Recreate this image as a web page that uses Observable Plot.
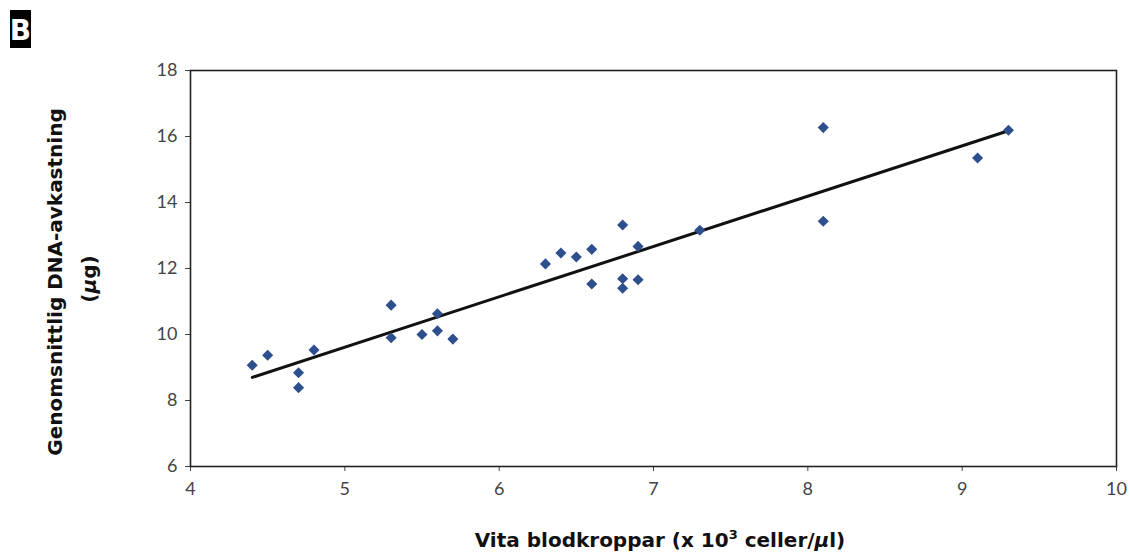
<!DOCTYPE html>
<html><head><meta charset="utf-8">
<script src="https://cdn.jsdelivr.net/npm/d3@7"></script>
<script src="https://cdn.jsdelivr.net/npm/@observablehq/plot@0.6"></script>
<style>body{margin:0;background:#fff} #chart{width:1130px;height:556px}</style>
</head><body><div id="chart"></div>
<script>
// White blood cells (x 10^3 cells/µl)
const wbc = [4.4, 4.5, 4.7, 4.7, 4.8, 5.3, 5.3, 5.5, 5.6, 5.6, 5.7,
             6.3, 6.4, 6.5, 6.6, 6.6, 6.8, 6.8, 6.8, 6.9, 6.9, 7.3,
             8.1, 8.1, 9.1, 9.3];
// Average DNA yield (µg)
const dnaYield = [9.07, 9.37, 8.84, 8.39, 9.53, 10.89, 9.90, 10.00, 10.63, 10.11, 9.86,
                  12.14, 12.47, 12.35, 12.58, 11.53, 13.32, 11.69, 11.40, 12.67, 11.66, 13.16,
                  16.27, 13.43, 15.35, 16.19];
const xTicks = [4, 5, 6, 7, 8, 9, 10];
const yTicks = [6, 8, 10, 12, 14, 16, 18];
const panelLetter = "B";

const data = wbc.map((x, i) => ({x, y: dnaYield[i]}));

const labelFont = "'DejaVu Sans', sans-serif";

const plot = Plot.plot({
  width: 1130, height: 556,
  marginLeft: 190, marginRight: 14, marginTop: 70, marginBottom: 90,
  style: {fontFamily: "Lato, 'Open Sans', sans-serif", fontSize: "18px", color: "#444", background: "#fff"},
  x: {domain: [4, 10], ticks: xTicks, tickFormat: d3.format("d"), tickSize: 5, tickPadding: 11, label: null},
  y: {domain: [6, 18], ticks: yTicks, tickFormat: d3.format("d"), tickSize: 5, tickPadding: 8, label: null},
  marks: [
    Plot.frame({stroke: "#222", strokeWidth: 1.6}),
    Plot.linearRegressionY(data, {x: "x", y: "y", ci: 0, stroke: "#111", strokeWidth: 3}),
    Plot.dot(data, {x: "x", y: "y", symbol: "diamond2", r: 5, fill: "#2E4F8E", stroke: null})
  ]
});
document.getElementById("chart").append(plot);

const svg = d3.select(plot);
// panel letter
svg.append("rect").attr("x", 10).attr("y", 10).attr("width", 21).attr("height", 38).attr("fill", "#000");
svg.append("text").attr("x", 20.5).attr("y", 40).attr("text-anchor", "middle")
  .attr("fill", "#fff").attr("font-family", labelFont).attr("font-weight", 700)
  .attr("font-size", 28).text(panelLetter);

// x axis label
const xl = svg.append("text").attr("x", 660).attr("y", 547).attr("text-anchor", "middle")
  .attr("font-family", labelFont).attr("font-weight", 700).attr("font-size", 20).attr("fill", "#111");
xl.append("tspan").text("Vita blodkroppar (x 10");
xl.append("tspan").attr("font-size", 13).attr("dy", -8).text("3");
xl.append("tspan").attr("dy", 8).text(" celler/");
xl.append("tspan").attr("font-style", "italic").text("µ");
xl.append("tspan").text("l)");

// y axis label (two lines)
svg.append("text").attr("transform", "translate(62,282) rotate(-90)").attr("text-anchor", "middle")
  .attr("font-family", labelFont).attr("font-weight", 700).attr("font-size", 20).attr("fill", "#111")
  .text("Genomsnittlig DNA-avkastning");
const yl2 = svg.append("text").attr("transform", "translate(96,279) rotate(-90)").attr("text-anchor", "middle")
  .attr("font-family", labelFont).attr("font-weight", 700).attr("font-size", 20).attr("fill", "#111");
yl2.append("tspan").text("(");
yl2.append("tspan").attr("font-style", "italic").text("µ");
yl2.append("tspan").text("g)");
</script>
</body></html>
